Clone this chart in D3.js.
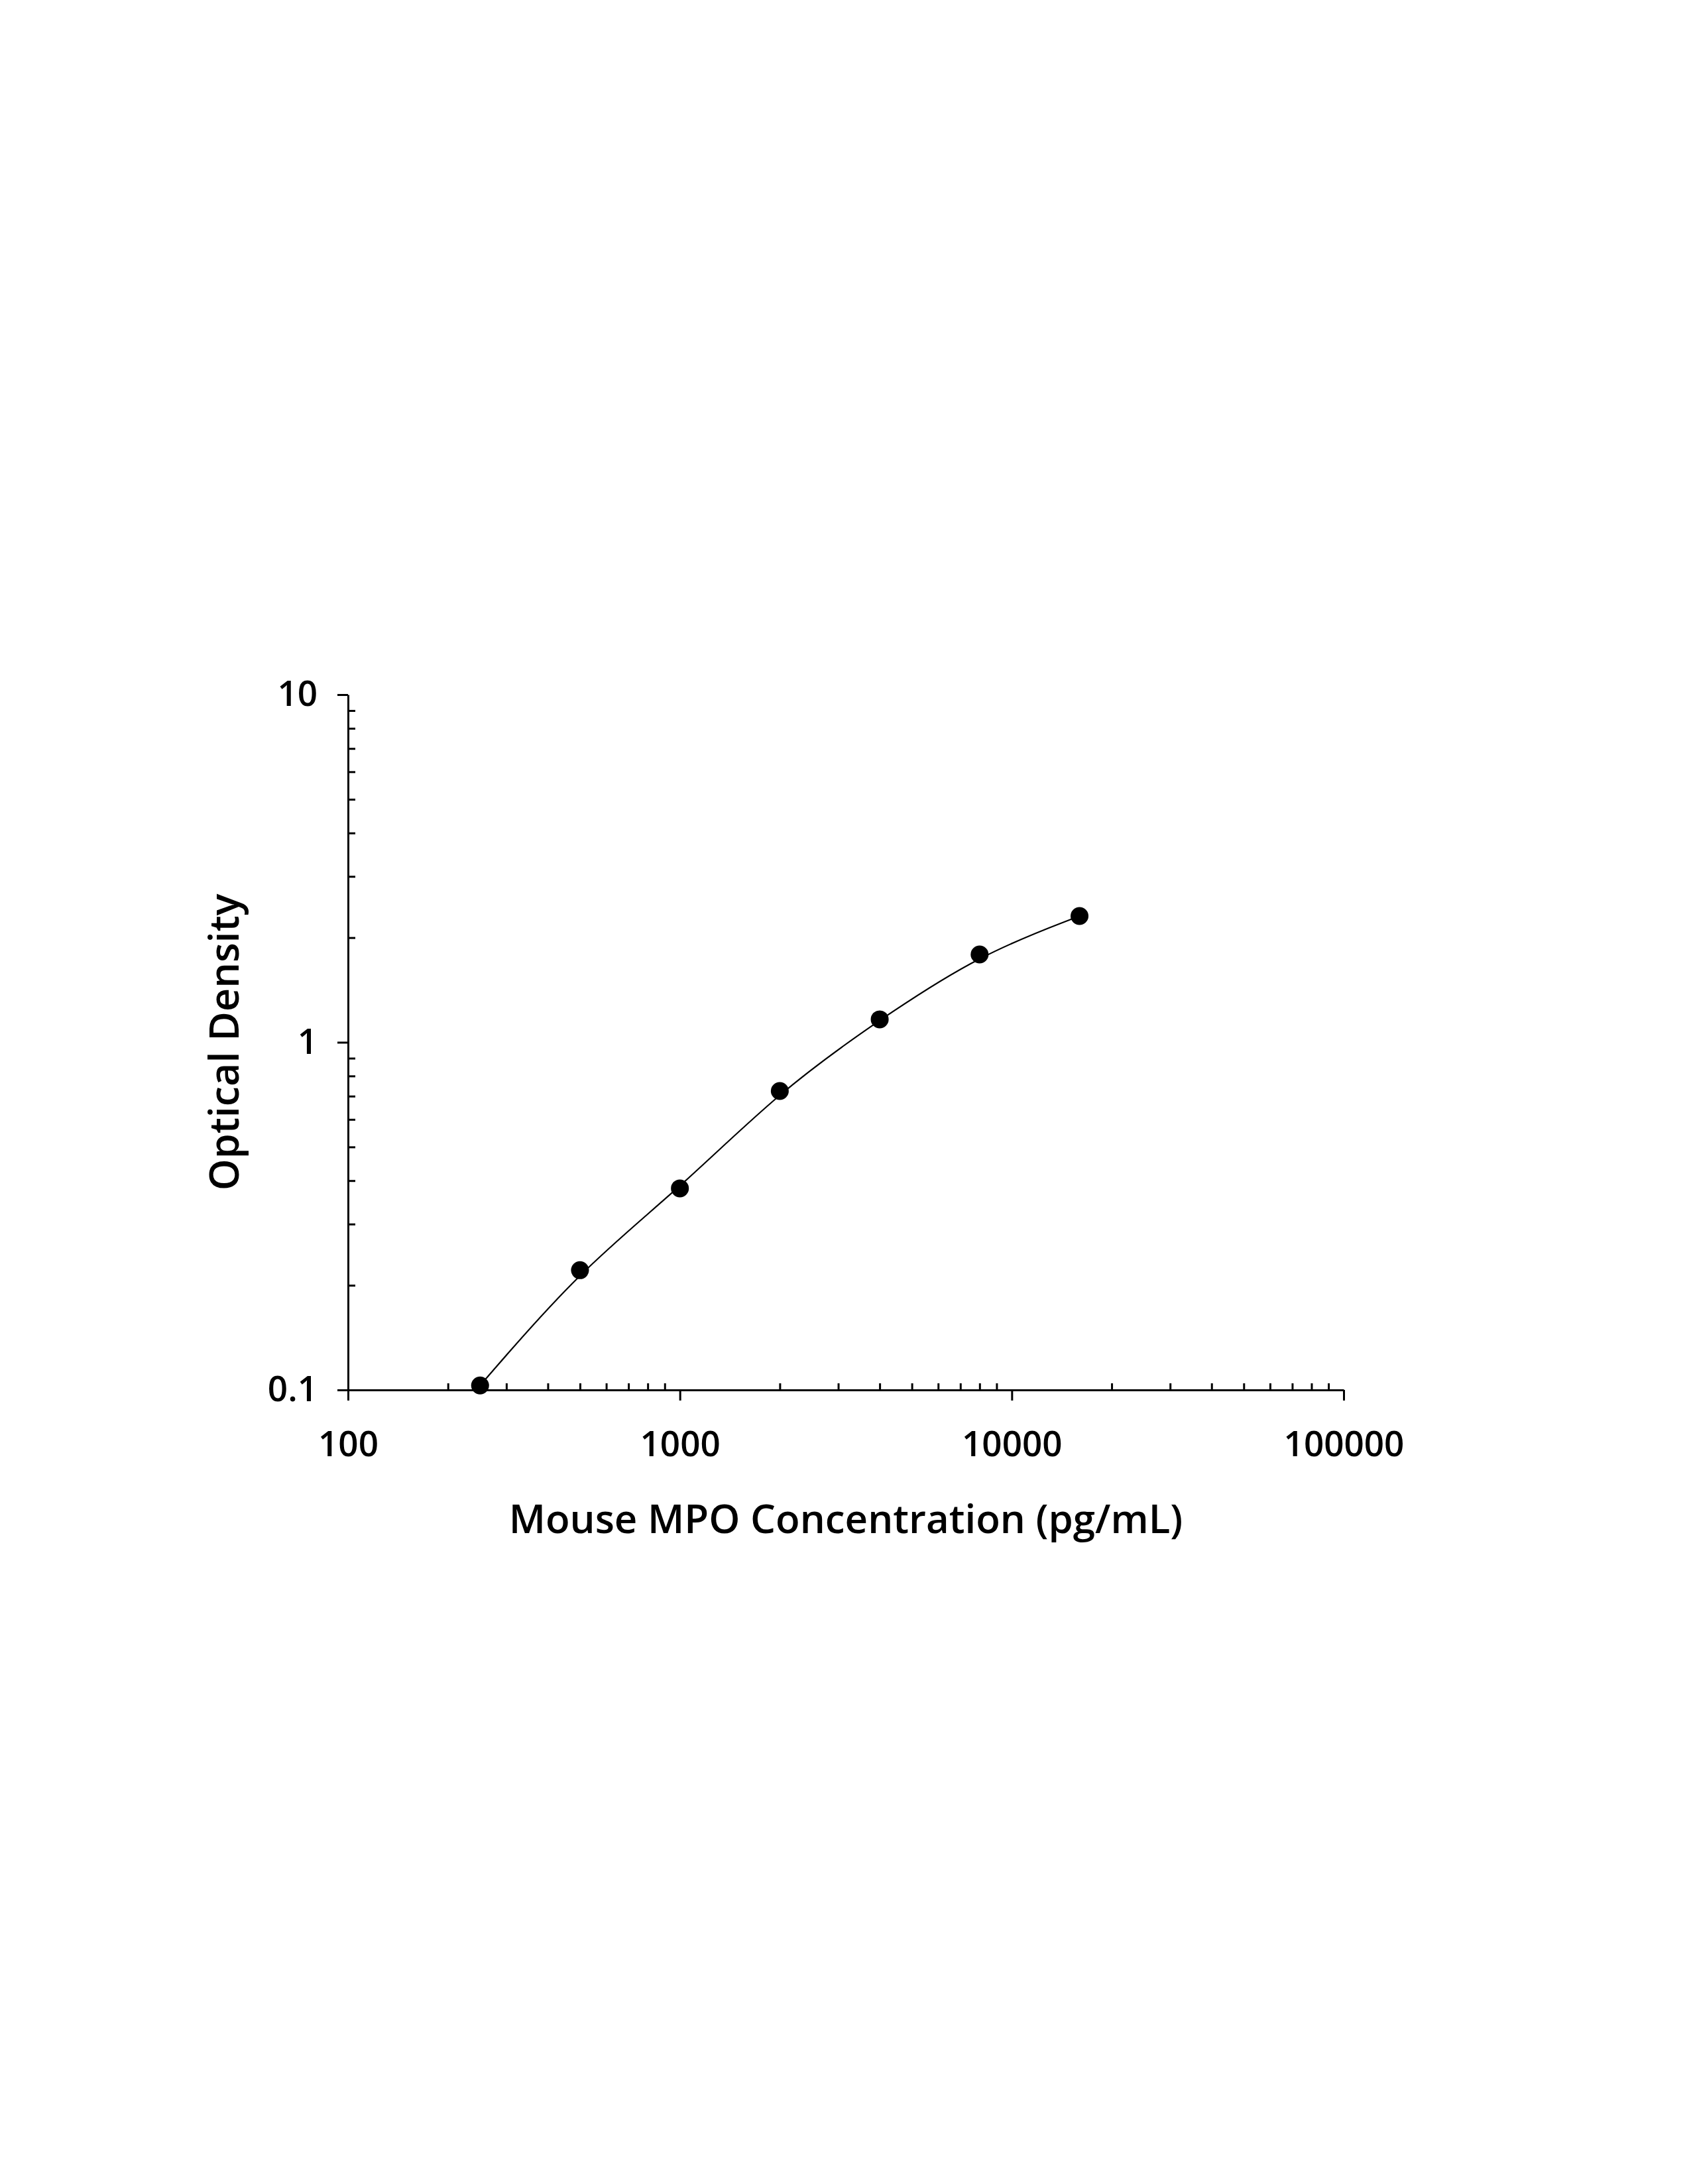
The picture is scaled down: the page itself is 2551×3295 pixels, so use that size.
<!DOCTYPE html>
<html>
<head>
<meta charset="utf-8">
<script src="https://cdn.jsdelivr.net/npm/d3@7"></script>
<style>
  body { margin: 0; background: #fff; }
  text { font-family: "Open Sans", sans-serif; font-weight: 600; fill: #000; }
</style>
</head>
<body>
<div id="chart"></div>
<script>
// standard curve data
const concentrations = [250, 500, 1000, 2000, 4000, 8000, 16000];
const opticalDensity = [0.103, 0.221, 0.380, 0.724, 1.164, 1.789, 2.308];
const xTicks = [100, 1000, 10000, 100000];
const yTicks = [0.1, 1, 10];
const xTitle = "Mouse MPO Concentration (pg/mL)";
const yTitle = "Optical Density";

const W = 2551, H = 3295;
const plot = {left: 525, right: 2027, top: 1048, bottom: 2097};

const svg = d3.select("#chart")
  .append("svg")
  .attr("width", W)
  .attr("height", H);

svg.append("rect").attr("width", W).attr("height", H).attr("fill", "#fff");

const x = d3.scaleLog().domain([100, 100000]).range([plot.left, plot.right]);
const y = d3.scaleLog().domain([0.1, 10]).range([plot.bottom, plot.top]);

// minor ticks 2..9 of every decade
const minorOf = (ticks) => {
  const out = [];
  ticks.slice(0, -1).forEach(t => {
    for (let k = 2; k <= 9; k++) out.push(t * k);
  });
  return out;
};

// x axis
const gx = svg.append("g").attr("transform", `translate(0,${plot.bottom})`);
gx.call(d3.axisBottom(x).tickValues(xTicks).tickSize(16).tickSizeOuter(0)
  .tickPadding(46).tickFormat(d3.format("d")));
gx.append("g").call(d3.axisBottom(x).tickValues(minorOf(xTicks)).tickSize(-10).tickFormat(""))
  .select(".domain").remove();

// y axis
const gy = svg.append("g").attr("transform", `translate(${plot.left},0)`);
gy.call(d3.axisLeft(y).tickValues(yTicks).tickSize(16).tickSizeOuter(0)
  .tickPadding(30).tickFormat(d => d));
gy.append("g").call(d3.axisLeft(y).tickValues(minorOf(yTicks)).tickSize(-11).tickFormat(""))
  .select(".domain").remove();

svg.selectAll(".domain, .tick line")
  .attr("stroke", "#000")
  .attr("stroke-width", 3);

svg.selectAll(".tick text")
  .attr("font-size", 53)
  .attr("font-family", "Open Sans, sans-serif")
  .attr("font-weight", 600);

// smooth fitted curve through the standards
const pts = concentrations.map((c, i) => [c, opticalDensity[i]]);
const line = d3.line()
  .x(d => x(d[0]))
  .y(d => y(d[1]))
  .curve(d3.curveBasis);

svg.append("path")
  .datum(pts)
  .attr("d", line)
  .attr("fill", "none")
  .attr("stroke", "#000")
  .attr("stroke-width", 2.2);

svg.selectAll(".dot")
  .data(pts)
  .enter()
  .append("circle")
  .attr("class", "dot")
  .attr("cx", d => x(d[0]))
  .attr("cy", d => y(d[1]))
  .attr("r", 13.5)
  .attr("fill", "#000");

// axis titles
svg.append("text")
  .attr("x", (plot.left + plot.right) / 2)
  .attr("y", 2313)
  .attr("text-anchor", "middle")
  .attr("font-size", 60)
  .text(xTitle);

svg.append("text")
  .attr("transform", `translate(360,${(plot.top + plot.bottom) / 2}) rotate(-90)`)
  .attr("text-anchor", "middle")
  .attr("font-size", 61)
  .text(yTitle);
</script>
</body>
</html>
